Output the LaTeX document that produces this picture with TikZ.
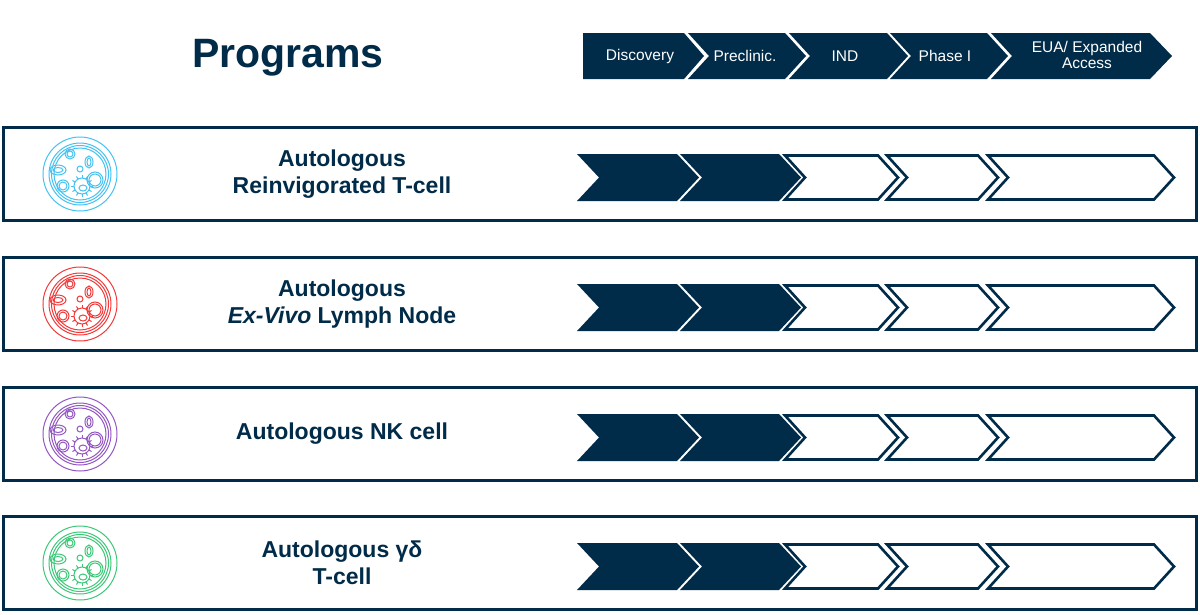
\documentclass[tikz,border=0pt]{standalone}
\usepackage{fontspec}
\setmainfont{Liberation Sans}
\begin{document}
\begin{tikzpicture}[x=1pt,y=-1pt,
  hollow/.style={fill=white,draw=navy,line width=2.6pt,line join=miter},
  rowbox/.style={draw=navy,line width=3pt},
  hdr/.style={text=white,font=\fontsize{15.5}{16}\selectfont,align=center},
  lbl/.style={text=navy,font=\bfseries\fontsize{23}{27}\selectfont,align=center}]
\definecolor{navy}{HTML}{002B49}
\definecolor{icblue}{HTML}{45C2F2}
\definecolor{icred}{HTML}{F23A3A}
\definecolor{icpurple}{HTML}{9357C2}
\definecolor{icgreen}{HTML}{3CC878}
\useasboundingbox (0,0) rectangle (1200,614);
\fill[white] (0,0) rectangle (1200,614);
\node[text=navy,font=\bfseries\fontsize{41}{44}\selectfont] (title) at (288,58) {Programs};
\newcommand{\hchev}[6]{%
  \fill[navy] (#1,#4) -- (#2,#4) -- (#3,{(#4+#5)/2}) -- (#2,#5) -- (#1,#5) -- (#6,{(#4+#5)/2}) -- cycle;}
\hchev{583}{684}{704}{33}{79}{583}
\hchev{688}{785}{806}{33}{79}{709}
\hchev{789}{887}{908}{33}{79}{810}
\hchev{890}{987}{1008}{33}{79}{911}
\hchev{991}{1150}{1172}{33}{79}{1012}
\node[hdr] (h1) at (640,56) {Discovery};
\node[hdr] (h2) at (745,56) {Preclinic.};
\node[hdr] (h3) at (845,56) {IND};
\node[hdr] (h4) at (945,56) {Phase I};
\node[hdr] (h5) at (1087,55) {EUA/ Expanded\\Access};
\newcommand{\drow}[4]{%
  \draw[rowbox] (3,#1) rectangle (1196,{#1+93});
  \pgfmathsetmacro{\ct}{#1+27}\pgfmathsetmacro{\cb}{#1+74}\pgfmathsetmacro{\cm}{#1+50.5}
  \fill[navy] (577,\ct) -- (677,\ct) -- (699,\cm) -- (677,\cb) -- (577,\cb) -- (599,\cm) -- cycle;
  \fill[navy] (680,\ct) -- (779,\ct) -- (801,\cm) -- (779,\cb) -- (680,\cb) -- (702,\cm) -- cycle;
  \draw[hollow] (785,\ct+1.5) -- (878,\ct+1.5) -- (898,\cm) -- (878,\cb-1.5) -- (785,\cb-1.5) -- (805,\cm) -- cycle;
  \draw[hollow] (887,\ct+1.5) -- (978,\ct+1.5) -- (998,\cm) -- (978,\cb-1.5) -- (887,\cb-1.5) -- (907,\cm) -- cycle;
  \draw[hollow] (988,\ct+1.5) -- (1154,\ct+1.5) -- (1174,\cm) -- (1154,\cb-1.5) -- (988,\cb-1.5) -- (1008,\cm) -- cycle;
  \node[lbl] (#4) at (342,{#1+47}) {#3};
  \begin{scope}[shift={(80,{#1+47})},draw=#2,line width=1pt]
    \draw (0,0) circle (37);
    \foreach \r in {31,28.5,26} \draw (0,0) circle (\r);
    \draw (-10,-20) ellipse (5 and 5); \draw (-10,-20) ellipse (3 and 3);
    \draw (9,-12) ellipse (4 and 6); \draw (9,-12) ellipse (2 and 4);
    \draw (-22,-4) ellipse (8 and 5); \draw (-22,-4) ellipse (5 and 2.5);
    \draw (0,-5) circle (3);
    \draw (15,6) circle (8); \draw (15,6) circle (6);
    \draw (-17,12) circle (6); \draw (-17,12) circle (4);
    \draw (2,12) circle (8);
    \foreach \a in {0,30,...,330} \draw (2,12) ++(\a:8) -- ++(\a:3);
    \draw (3,14) ellipse (4 and 3);
  \end{scope}
}
\drow{127}{icblue}{Autologous\\Reinvigorated T-cell}{r1}
\drow{257}{icred}{Autologous\\\textit{Ex-Vivo} Lymph Node}{r2}
\drow{387}{icpurple}{Autologous NK cell}{r3}
\drow{516}{icgreen}{Autologous γδ\\T-cell}{r4}
\end{tikzpicture}
\end{document}
